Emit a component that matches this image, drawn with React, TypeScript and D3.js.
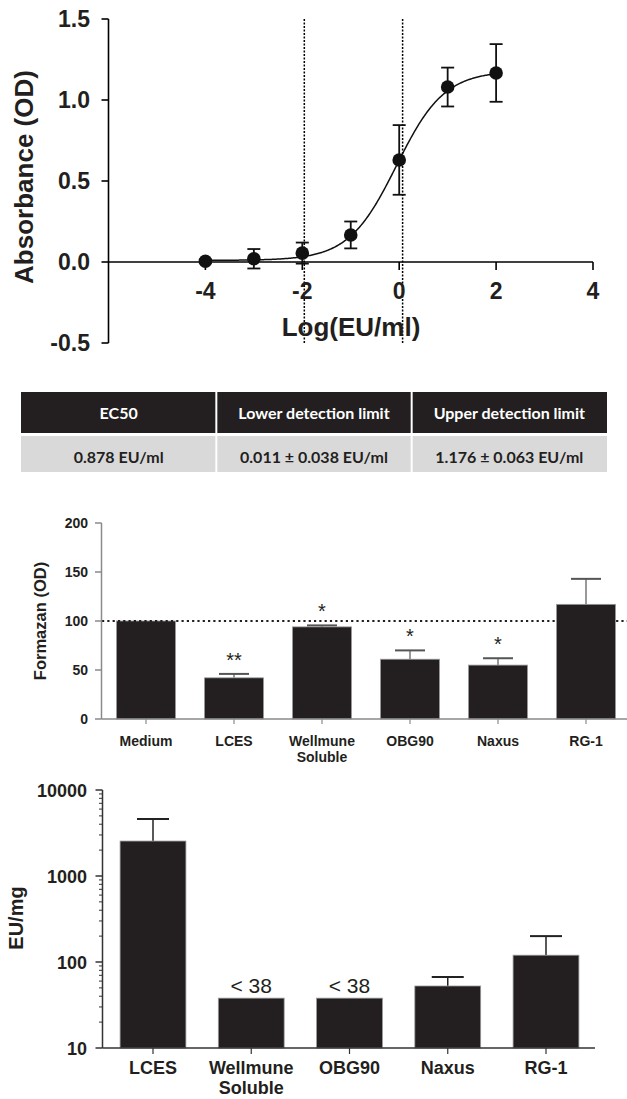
import React from 'react';
import * as d3 from 'd3';

// ---------- Top chart: dose-response ----------
const doseLog = [-4, -3, -2, -1, 0, 1, 2];
const absorbance = [0.005, 0.02, 0.055, 0.167, 0.63, 1.08, 1.167];
const absorbanceErr = [0.01, 0.06, 0.065, 0.083, 0.215, 0.12, 0.178];
const topXTicks = [-4, -2, 0, 2, 4];
const topYTicks = [-0.5, 0.0, 0.5, 1.0, 1.5];
// 4-parameter logistic fit
const fitBottom = 0.01;
const fitTop = 1.18;
const fitLogEC50 = -0.056;
const fitHill = 0.88;
const fitRange = [-4, 2];
const lowerLimit = 0.011;
const upperLimit = 1.176;

// ---------- Table ----------
const tableHeaders = ['EC50', 'Lower detection limit', 'Upper detection limit'];
const tableValues = ['0.878 EU/ml', '0.011 ± 0.038 EU/ml', '1.176 ± 0.063 EU/ml'];

// ---------- Middle chart: Formazan ----------
const midCategories = ['Medium', 'LCES', 'Wellmune\nSoluble', 'OBG90', 'Naxus', 'RG-1'];
const midValues = [100, 42, 94, 61, 55, 117];
const midErr = [0, 4, 1.5, 9, 7, 26];
const midSig = ['', '**', '*', '*', '*', ''];
const midYTicks = [0, 50, 100, 150, 200];
const midReference = 100;

// ---------- Bottom chart: EU/mg ----------
const botCategories = ['LCES', 'Wellmune\nSoluble', 'OBG90', 'Naxus', 'RG-1'];
const botValues = [2550, 38, 38, 52.6, 120];
const botErr = [2050, 0, 0, 14.5, 80];
const botLabels = ['', '< 38', '< 38', '', ''];
const botYTicks = [10, 100, 1000, 10000];

const ARIAL = '"Liberation Sans", Arial, Helvetica, sans-serif';
const CAL = 'Lato, "Open Sans", sans-serif';
const BAR = '#231f20';

function fit(x: number) {
  return fitBottom + (fitTop - fitBottom) / (1 + Math.pow(10, (fitLogEC50 - x) * fitHill));
}

function TopChart() {
  const x = d3.scaleLinear().domain([-6, 4]).range([108.5, 593]);
  const y = d3.scaleLinear().domain([-0.5, 1.5]).range([343, 19]);
  const xs = d3.range(fitRange[0], fitRange[1] + 0.0001, 0.02);
  const line = d3
    .line<number>()
    .x((d) => x(d))
    .y((d) => y(fit(d)));
  const y0 = y(0);
  const limits = [lowerLimit, upperLimit].map((v) => Math.log10(v));
  return (
    <g>
      {limits.map((l, i) => (
        <line key={i} x1={x(l)} x2={x(l)} y1={19} y2={343} stroke="#000" strokeWidth={1.5} strokeDasharray="2 1.5" />
      ))}
      <line x1={x(-6)} x2={x(-6)} y1={y(1.5)} y2={y(-0.5)} stroke="#000" strokeWidth={1.6} />
      {topYTicks.map((t) => (
        <g key={t}>
          <line x1={x(-6) - 7} x2={x(-6)} y1={y(t)} y2={y(t)} stroke="#000" strokeWidth={1.6} />
          <text x={90} y={y(t) + 8} textAnchor="end" fontFamily={ARIAL} fontWeight="bold" fontSize={23} fill="#231f20">
            {t.toFixed(1)}
          </text>
        </g>
      ))}
      <line x1={x(-6)} x2={x(4)} y1={y0} y2={y0} stroke="#000" strokeWidth={1.6} />
      {topXTicks.map((t) => (
        <g key={t}>
          <line x1={x(t)} x2={x(t)} y1={y0} y2={y0 + 8} stroke="#000" strokeWidth={1.6} />
          <text x={x(t)} y={299} textAnchor="middle" fontFamily={ARIAL} fontWeight="bold" fontSize={23} fill="#231f20">
            {String(t)}
          </text>
        </g>
      ))}
      <text x={351} y={336} textAnchor="middle" fontFamily={ARIAL} fontWeight="bold" fontSize={26} fill="#231f20">
        Log(EU/ml)
      </text>
      <text
        transform={`translate(33,177) rotate(-90)`}
        textAnchor="middle"
        fontFamily={ARIAL}
        fontWeight="bold"
        fontSize={26}
        fill="#231f20"
      >
        Absorbance (OD)
      </text>
      <path d={line(xs) || ''} fill="none" stroke="#111" strokeWidth={1.5} />
      {doseLog.map((d, i) => {
        const cx = x(d);
        const top = y(absorbance[i] + absorbanceErr[i]);
        const bot = y(absorbance[i] - absorbanceErr[i]);
        return (
          <g key={i}>
            <line x1={cx} x2={cx} y1={top} y2={bot} stroke="#111" strokeWidth={1.8} />
            <line x1={cx - 6.5} x2={cx + 6.5} y1={top} y2={top} stroke="#111" strokeWidth={1.8} />
            <line x1={cx - 6.5} x2={cx + 6.5} y1={bot} y2={bot} stroke="#111" strokeWidth={1.8} />
            <circle cx={cx} cy={y(absorbance[i])} r={6.8} fill="#111" />
          </g>
        );
      })}
    </g>
  );
}

function Table() {
  const x = d3.scaleBand().domain(tableHeaders).range([21, 607]);
  const w = x.bandwidth();
  return (
    <g>
      {tableHeaders.map((h, i) => {
        const x0 = x(h)! + (i > 0 ? 1 : 0);
        const ww = w - (i > 0 ? 1 : 0) - (i < 2 ? 1 : 0);
        return (
          <g key={h}>
            <rect x={x0} y={392} width={ww} height={41} fill="#231f20" />
            <rect x={x0} y={436} width={ww} height={36} fill="#d9d9da" />
            <text x={x(h)! + w / 2} y={418.5} textAnchor="middle" fontFamily={CAL} fontWeight="bold" fontSize={16} fill="#fff">
              {h}
            </text>
            <text x={x(h)! + w / 2} y={462.5} textAnchor="middle" fontFamily={CAL} fontWeight="bold" fontSize={16} fill="#231f20">
              {tableValues[i]}
            </text>
          </g>
        );
      })}
    </g>
  );
}

function MidChart() {
  const x = d3.scalePoint<string>().domain(midCategories).range([146, 586]);
  const bw = x.step() * 0.67;
  const y = d3.scaleLinear().domain([0, 200]).range([719, 523]);
  const axisColor = '#8a8a8a';
  return (
    <g>
      {midCategories.map((c, i) => {
        const cx = x(c)!;
        const top = y(midValues[i]);
        const et = y(midValues[i] + midErr[i]);
        return (
          <g key={c}>
            {midErr[i] > 0 && (
              <g>
                <line x1={cx} x2={cx} y1={top} y2={et} stroke="#777" strokeWidth={1.5} />
                <line x1={cx - 15} x2={cx + 15} y1={et} y2={et} stroke="#555" strokeWidth={2} />
              </g>
            )}
            <rect x={cx - bw / 2} y={top} width={bw} height={y(0) - top} fill={BAR} stroke="#9a9a9a" strokeWidth={0.8} />
            {midSig[i] && (
              <text x={cx} y={et - 7} textAnchor="middle" fontFamily={ARIAL} fontSize={20} fill="#231f20">
                {midSig[i]}
              </text>
            )}
          </g>
        );
      })}
      <line x1={102} x2={627} y1={y(midReference)} y2={y(midReference)} stroke="#231f20" strokeWidth={2.2} strokeDasharray="2.2 3.1" />
      <line x1={101.5} x2={101.5} y1={y(200)} y2={y(0)} stroke={axisColor} strokeWidth={1.5} />
      {midYTicks.map((t) => (
        <g key={t}>
          <line x1={95} x2={101.5} y1={y(t)} y2={y(t)} stroke={axisColor} strokeWidth={1.5} />
          <text x={88} y={y(t) + 5} textAnchor="end" fontFamily={ARIAL} fontWeight="bold" fontSize={14} fill="#231f20">
            {String(t)}
          </text>
        </g>
      ))}
      <line x1={101.5} x2={627} y1={y(0)} y2={y(0)} stroke={axisColor} strokeWidth={1.5} />
      {midCategories.map((c) => (
        <g key={c}>
          <line x1={x(c)!} x2={x(c)!} y1={y(0)} y2={y(0) + 5} stroke={axisColor} strokeWidth={1.2} />
          <text x={x(c)!} y={746} textAnchor="middle" fontFamily={ARIAL} fontWeight="bold" fontSize={14} fill="#231f20">
            {c.split('\n').map((part, k) => (
              <tspan key={k} x={x(c)!} dy={k === 0 ? 0 : 15.5}>
                {part}
              </tspan>
            ))}
          </text>
        </g>
      ))}
      <text
        transform={`translate(46,621) rotate(-90)`}
        textAnchor="middle"
        fontFamily={ARIAL}
        fontWeight="bold"
        fontSize={16.5}
        fill="#231f20"
      >
        Formazan (OD)
      </text>
    </g>
  );
}

function BotChart() {
  const x = d3.scalePoint<string>().domain(botCategories).range([153, 546]);
  const bw = x.step() * 0.67;
  const y = d3.scaleLog().domain([10, 10000]).range([1048, 790]);
  const minor: number[] = [];
  for (let dec = 10; dec < 10000; dec *= 10) {
    for (let m = 2; m <= 9; m++) minor.push(dec * m);
  }
  const axisColor = '#333';
  const ax = 102.5;
  return (
    <g>
      {botCategories.map((c, i) => {
        const cx = x(c)!;
        const top = y(botValues[i]);
        const et = y(botValues[i] + botErr[i]);
        return (
          <g key={c}>
            {botErr[i] > 0 && (
              <g>
                <line x1={cx} x2={cx} y1={top} y2={et} stroke="#222" strokeWidth={1.5} />
                <line x1={cx - 16} x2={cx + 16} y1={et} y2={et} stroke="#222" strokeWidth={2} />
              </g>
            )}
            <rect x={cx - bw / 2} y={top} width={bw} height={y(10) - top} fill={BAR} stroke="#9a9a9a" strokeWidth={0.8} />
            {botLabels[i] && (
              <text x={cx} y={top - 5} textAnchor="middle" fontFamily={ARIAL} fontSize={21} fill="#231f20">
                {botLabels[i]}
              </text>
            )}
          </g>
        );
      })}
      <line x1={ax} x2={ax} y1={y(10000)} y2={y(10)} stroke={axisColor} strokeWidth={1.5} />
      {minor.map((t) => (
        <line key={t} x1={ax - 3.5} x2={ax} y1={y(t)} y2={y(t)} stroke={axisColor} strokeWidth={1} />
      ))}
      {botYTicks.map((t) => (
        <g key={t}>
          <line x1={ax - 7} x2={ax} y1={y(t)} y2={y(t)} stroke={axisColor} strokeWidth={1.5} />
          <text x={87} y={y(t) + 6.5} textAnchor="end" fontFamily={ARIAL} fontWeight="bold" fontSize={18} fill="#231f20">
            {String(t)}
          </text>
        </g>
      ))}
      <line x1={ax} x2={595} y1={y(10)} y2={y(10)} stroke={axisColor} strokeWidth={1.5} />
      {botCategories.map((c) => (
        <g key={c}>
          <line x1={x(c)!} x2={x(c)!} y1={y(10)} y2={y(10) + 6} stroke={axisColor} strokeWidth={1.2} />
          <text x={x(c)!} y={1074} textAnchor="middle" fontFamily={ARIAL} fontWeight="bold" fontSize={18} fill="#231f20">
            {c.split('\n').map((part, k) => (
              <tspan key={k} x={x(c)!} dy={k === 0 ? 0 : 20}>
                {part}
              </tspan>
            ))}
          </text>
        </g>
      ))}
      <text
        transform={`translate(23,918) rotate(-90)`}
        textAnchor="middle"
        fontFamily={ARIAL}
        fontWeight="bold"
        fontSize={20}
        fill="#231f20"
      >
        EU/mg
      </text>
    </g>
  );
}

export default function App() {
  return (
    <svg
      width={627}
      height={1099}
      viewBox="0 0 627 1099"
      style={{ position: 'absolute', left: 0, top: 0, background: '#fff' }}
    >
      <rect width={627} height={1099} fill="#fff" />
      <TopChart />
      <Table />
      <MidChart />
      <BotChart />
    </svg>
  );
}
